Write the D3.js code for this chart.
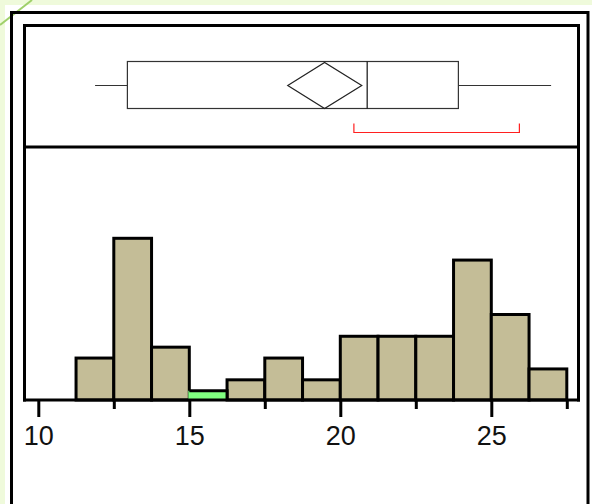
<!DOCTYPE html>
<html>
<head>
<meta charset="utf-8">
<script src="https://cdn.jsdelivr.net/npm/d3@7"></script>
<style>
  html, body { margin: 0; padding: 0; background: #ffffff; }
  svg { display: block; }
</style>
</head>
<body>
<svg id="chart" width="592" height="504"></svg>
<script>
// ---- data ----
const binEdges = [11.25, 12.5, 13.75, 15, 16.25, 17.5, 18.75, 20, 21.25, 22.5, 23.75, 25, 26.25, 27.5];
const counts   = [4, 15, 5, 1, 2, 4, 2, 6, 6, 6, 13, 8, 3];
const selectedBin = [3];                     // index of the highlighted (green) bin
const majorTicks = [10, 15, 20, 25];
const minorTicks = [12.5, 17.5, 22.5, 27.5];
const boxWhiskers = [11.88, 26.98];          // min, max
const boxQuartiles = [12.95, 20.89, 23.91];  // Q1, median, Q3
const meanDiamond = [18.26, 19.48, 20.71];   // lower CI, mean, upper CI
const shortestHalf = [20.45, 25.93];

const svg = d3.select("#chart");

// page background
svg.append("rect").attr("x", 0).attr("y", 0).attr("width", 592).attr("height", 504).attr("fill", "#effadb");
svg.append("rect").attr("x", 5).attr("y", 5).attr("width", 587).attr("height", 499).attr("fill", "#ffffff");
svg.append("line").attr("x1", 0).attr("y1", 25).attr("x2", 32).attr("y2", 0)
  .attr("stroke", "#9fd06a").attr("stroke-width", 2);

// outer frame
svg.append("path").attr("d", "M11.5,520 V12.5 H588 V520")
  .attr("fill", "none").attr("stroke", "#000").attr("stroke-width", 3);

// scales
const baseY = 400;
const x = d3.scaleLinear().domain([10, 25]).range([38.3, 491.3]);
const y = d3.scaleLinear().domain([0, 15]).range([401.6, 238.3]);

// histogram bars
const bins = counts.map((c, i) => ({x0: binEdges[i], x1: binEdges[i + 1], c, i}));
const barG = svg.append("g");
barG.selectAll("rect.bar").data(bins.filter(b => !selectedBin.includes(b.i))).join("rect")
  .attr("class", "bar")
  .attr("x", d => x(d.x0)).attr("y", d => y(d.c))
  .attr("width", d => x(d.x1) - x(d.x0)).attr("height", d => baseY - y(d.c))
  .attr("fill", "#c4bd97").attr("stroke", "#000").attr("stroke-width", 3);
barG.selectAll("rect.sel").data(bins.filter(b => selectedBin.includes(b.i))).join("rect")
  .attr("class", "sel")
  .attr("x", d => x(d.x0) - 1).attr("y", d => y(d.c))
  .attr("width", d => x(d.x1) - x(d.x0) + 1).attr("height", d => baseY - y(d.c))
  .attr("fill", "#80ff80");
barG.selectAll("path.seltop").data(bins.filter(b => selectedBin.includes(b.i))).join("path")
  .attr("class", "seltop")
  .attr("d", d => `M${x(d.x0)},${y(d.c)} H${x(d.x1)} V${baseY}`)
  .attr("fill", "none").attr("stroke", "#000").attr("stroke-width", 3);

// axis (major ticks with labels, minor ticks)
const axisMajor = d3.axisBottom(x).tickValues(majorTicks).tickSize(17).tickPadding(8).tickFormat(d3.format("d"));
const gMajor = svg.append("g").attr("transform", `translate(0,${baseY})`).call(axisMajor);
gMajor.select(".domain").remove();
gMajor.selectAll(".tick line").attr("stroke", "#000").attr("stroke-width", 3);
gMajor.selectAll(".tick text")
  .attr("font-family", "'Liberation Sans', Arial, sans-serif")
  .attr("font-size", 27).attr("fill", "#111").attr("dy", "0.74em");

const axisMinor = d3.axisBottom(x).tickValues(minorTicks).tickSize(9).tickFormat("");
const gMinor = svg.append("g").attr("transform", `translate(0,${baseY})`).call(axisMinor);
gMinor.select(".domain").remove();
gMinor.selectAll(".tick line").attr("stroke", "#000").attr("stroke-width", 3);

// inner frame: left side, top, right side down to baseline, and baseline
svg.append("path").attr("d", "M24.5,401.5 V25.5 H578.5 V401.5")
  .attr("fill", "none").attr("stroke", "#000").attr("stroke-width", 3);
svg.append("line").attr("x1", 23).attr("x2", 580).attr("y1", baseY).attr("y2", baseY)
  .attr("stroke", "#000").attr("stroke-width", 3);
// divider between box plot and histogram
svg.append("line").attr("x1", 23).attr("x2", 580).attr("y1", 147).attr("y2", 147)
  .attr("stroke", "#000").attr("stroke-width", 3);

// box plot
const bTop = 61.5, bBot = 108.5, bMid = 85.5;
const bp = svg.append("g").attr("fill", "none").attr("stroke", "#333").attr("stroke-width", 1.2);
bp.append("line").attr("x1", x(boxWhiskers[0])).attr("x2", x(boxQuartiles[0])).attr("y1", bMid).attr("y2", bMid);
bp.append("line").attr("x1", x(boxQuartiles[2])).attr("x2", x(boxWhiskers[1])).attr("y1", bMid).attr("y2", bMid);
bp.append("rect").attr("x", x(boxQuartiles[0])).attr("y", bTop)
  .attr("width", x(boxQuartiles[2]) - x(boxQuartiles[0])).attr("height", bBot - bTop);
bp.append("line").attr("x1", x(boxQuartiles[1])).attr("x2", x(boxQuartiles[1])).attr("y1", bTop).attr("y2", bBot)
  .attr("stroke", "#111");
bp.append("path")
  .attr("d", `M${x(meanDiamond[0])},${bMid} L${x(meanDiamond[1])},${bTop + 1} L${x(meanDiamond[2])},${bMid} L${x(meanDiamond[1])},${bBot} Z`)
  .attr("stroke", "#222");

// shortest half bracket
const shY = 132.5;
svg.append("path")
  .attr("d", `M${x(shortestHalf[0])},${shY - 9} V${shY} H${x(shortestHalf[1])} V${shY - 9}`)
  .attr("fill", "none").attr("stroke", "#ff2020").attr("stroke-width", 1.2);
</script>
</body>
</html>
